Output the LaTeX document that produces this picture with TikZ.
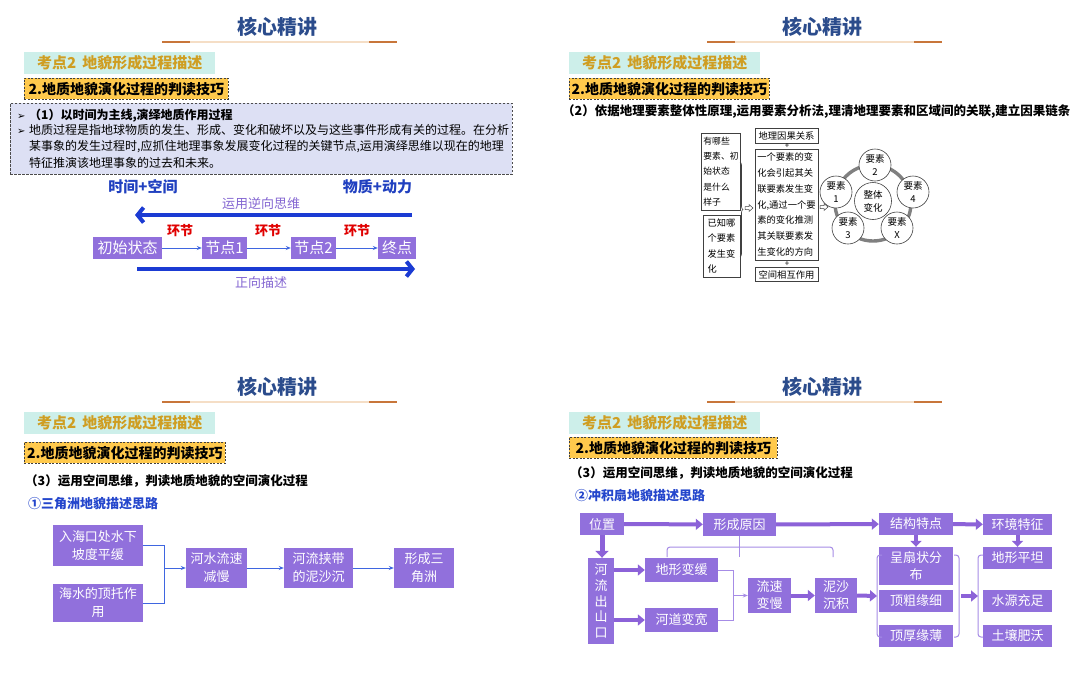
\documentclass[tikz,border=0pt]{standalone}
\usepackage{fontspec}
\setmainfont{Noto Sans CJK SC}
\newfontfamily\dvsans{DejaVu Sans}
\usetikzlibrary{arrows.meta,decorations.pathreplacing}
\definecolor{titleblue}{HTML}{2B4C8C}
\definecolor{peach}{HTML}{F5DEC6}
\definecolor{rust}{HTML}{C8763A}
\definecolor{kdbg}{HTML}{CDEFEA}
\definecolor{kdtext}{HTML}{CF9E22}
\definecolor{ybox}{HTML}{FFC94C}
\definecolor{lav}{HTML}{DDE0F4}
\definecolor{deepblue}{HTML}{1B3BD3}
\definecolor{labpurple}{HTML}{8466D2}
\definecolor{boxpurple}{HTML}{9170DC}
\definecolor{arrpurple}{HTML}{8C62D8}
\definecolor{thinpurple}{HTML}{A68CE6}
\definecolor{thinblue}{HTML}{3F66E0}
\definecolor{hred}{HTML}{E00000}
\definecolor{subblue}{HTML}{2446CC}
\definecolor{headblue}{HTML}{2040C0}
\newcommand\fs[1]{\fontsize{#1}{#1}\selectfont}
\tikzset{
  titletext/.style={font=\fs{20}\bfseries, text=titleblue, inner sep=0},
  tline/.style={line width=2.2pt, draw=peach},
  tlineo/.style={line width=2.2pt, draw=rust},
  kdbox/.style={fill=kdbg, text=kdtext, font=\fs{15}\bfseries, minimum width=191, minimum height=22, inner sep=0},
  twobox/.style={fill=ybox, draw=black!75, dash pattern=on 2pt off 1.5pt, line width=0.7pt, font=\fs{14}\bfseries, minimum height=21, inner sep=0},
  lavbox/.style={fill=lav, draw=black!70, dash pattern=on 2.5pt off 1.5pt, line width=0.8pt, inner sep=0},
  bigarrow/.style={line width=4pt, draw=deepblue, -{Straight Barb[length=6pt,width=15pt]}},
  flowbox/.style={fill=boxpurple, text=white, font=\fs{15}, minimum height=22, inner sep=0},
  thinarr/.style={line width=0.9pt, draw=thinblue, -{Stealth[length=5pt,width=4pt]}},
  p3box/.style={fill=boxpurple, text=white, font=\fontsize{13}{18}\selectfont, align=center, inner sep=0},
  p3line/.style={line width=1pt, draw=thinblue},
  p4box/.style={fill=boxpurple, text=white, font=\fontsize{13}{17}\selectfont, align=center, inner sep=0},
  fatarr/.style={line width=4pt, draw=arrpurple, -{Triangle[length=7pt,width=11pt]}},
  thinp/.style={line width=1pt, draw=thinpurple},
  imgbox/.style={draw=black!75, line width=0.6pt, fill=white, align=left, inner xsep=2pt, inner ysep=0},
  circ/.style={circle, draw=black!75, line width=0.6pt, fill=white, align=center, inner sep=0, font=\fontsize{9.5}{13}\selectfont},
  txt/.style={inner sep=0},
}
\newcommand\phead[5]{%
  \node[titletext] (#1title) at (277+#2, 26.5+#3) {核心精讲};
  \draw[tline] (162+#2,42+#3) -- (397+#2,42+#3);
  \draw[tlineo] (162+#2,42+#3) -- (190+#2,42+#3);
  \draw[tlineo] (369+#2,42+#3) -- (397+#2,42+#3);
  \node[kdbox, anchor=north west] (#1kd) at (24+#2, 52+#3) {考点2\hspace{6pt}地貌形成过程描述};
  \node[twobox, minimum width=#4, anchor=north west] (#1two) at (24+#2, #5) {2.地质地貌演化过程的判读技巧};
}
\begin{document}
\begin{tikzpicture}[x=1pt,y=-1pt]
\useasboundingbox (0,0) rectangle (1080,675);
\fill[white] (0,0) rectangle (1080,675);

\phead{a}{0}{0}{204}{78}
\phead{b}{545}{0}{200}{78}
\phead{c}{0}{360}{201}{442}
\phead{d}{545}{360}{208}{437}

% ---------------- panel 1 ----------------
\node[lavbox, anchor=north west, minimum width=502, minimum height=71] (lav) at (10,103) {};
\node[txt, anchor=base west, font=\fs{12}\bfseries] (l1) at (17,119.5) {\makebox[12pt][l]{\dvsans\fs{10}➢}（1）以时间为主线,演绎地质作用过程};
\node[txt, anchor=base west, font=\fs{12}] (l2) at (17,134) {\makebox[12pt][l]{\dvsans\fs{10}➢}地质过程是指地球物质的发生、形成、变化和破坏以及与这些事件形成有关的过程。在分析};
\node[txt, anchor=base west, font=\fs{12}] (l3) at (29,150.5) {某事象的发生过程时,应抓住地理事象发展变化过程的关键节点,运用演绎思维以现在的地理};
\node[txt, anchor=base west, font=\fs{12}] (l4) at (29,167) {特征推演该地理事象的过去和未来。};

\node[txt, font=\fs{15}\bfseries, text=headblue] (tk) at (143,187) {时间+空间};
\node[txt, font=\fs{15}\bfseries, text=headblue] (wd) at (377.5,187) {物质+动力};
\node[txt, font=\fs{13}, text=labpurple] (rev) at (261,204) {运用逆向思维};
\coordinate (revS) at (412,215);
\coordinate (revE) at (135,215);
\draw[bigarrow] (revS) -- (revE);

\node[txt, font=\fs{13}\bfseries, text=hred] (h1) at (180,231) {环节};
\node[txt, font=\fs{13}\bfseries, text=hred] (h2) at (268,231) {环节};
\node[txt, font=\fs{13}\bfseries, text=hred] (h3) at (357,231) {环节};

\node[flowbox, minimum width=69] (init) at (127.5,248) {初始状态};
\node[flowbox, minimum width=45] (n1) at (224.5,248) {节点1};
\node[flowbox, minimum width=45] (n2) at (313.5,248) {节点2};
\node[flowbox, minimum width=38] (fin) at (397,248) {终点};
\draw[thinarr] (init) -- (n1);
\draw[thinarr] (n1) -- (n2);
\draw[thinarr] (n2) -- (fin);

\coordinate (fwS) at (137,269);
\coordinate (fwE) at (415,269);
\draw[bigarrow] (fwS) -- (fwE);
\node[txt, font=\fs{13}, text=labpurple] (fwd) at (261,283) {正向描述};

% ---------------- panel 2 ----------------
\node[txt, anchor=west, font=\fs{12.5}\bfseries] (b2txt) at (562,111) {（2）依据地理要素整体性原理,运用要素分析法,理清地理要素和区域间的关联,建立因果链条};

\node[imgbox, minimum width=36, minimum height=77, font=\fontsize{8.8}{15.3}\selectfont] (q1) at (721,171.5) {有哪些\\要素、初\\始状态\\是什么\\样子};
\node[imgbox, minimum width=37, minimum height=62, font=\fontsize{9.2}{15.2}\selectfont] (q2) at (721.5,246) {已知哪\\个要素\\发生变\\化};
\draw[black!75, line width=0.6pt, decorate, decoration={brace, amplitude=3pt}] (740,162) -- (740,257);
\draw[black!75, line width=0.5pt, fill=white] (745,206.5) -- (749,206.5) -- (749,204.5) -- (753,208) -- (749,211.5) -- (749,209.5) -- (745,209.5) -- cycle;

\node[imgbox, minimum width=63, minimum height=15, font=\fs{9.3}] (rel) at (786.5,135.5) {地理因果关系};
\node[txt, font=\fs{8}] (pl1) at (787,146) {+};
\node[imgbox, minimum width=63, minimum height=111, font=\fontsize{9.3}{15.7}\selectfont] (big) at (786.5,204.5) {一个要素的变\\化会引起其关\\联要素发生变\\化,通过一个要\\素的变化推测\\其关联要素发\\生变化的方向};
\node[txt, font=\fs{8}] (pl2) at (787,264) {+};
\node[imgbox, minimum width=63, minimum height=14, font=\fs{9.3}] (sp) at (786.5,274.5) {空间相互作用};
\draw[black!75, line width=0.5pt, fill=white] (820,205.5) -- (824,205.5) -- (824,203.5) -- (828,207) -- (824,210.5) -- (824,208.5) -- (820,208.5) -- cycle;

\coordinate (ringc) at (873,203);
\draw[line width=3.4pt, black!50] (ringc) circle[radius=38];
\node[circ, minimum size=37] (whole) at (873,201) {整体\\变化};
\node[circ, minimum size=32] (e2) at (875,165) {要素\\2};
\node[circ, minimum size=32] (e1) at (836,192) {要素\\1};
\node[circ, minimum size=32] (e4) at (913,192) {要素\\4};
\node[circ, minimum size=32] (e3) at (848,228) {要素\\3};
\node[circ, minimum size=32] (ex) at (897,228) {要素\\X};

% ---------------- panel 3 ----------------
\node[txt, anchor=west, font=\fs{12.5}\bfseries] (c3txt) at (25,481) {（3）运用空间思维，判读地质地貌的空间演化过程};
\node[txt, anchor=west, font=\fs{13}\bfseries, text=subblue] (c3sub) at (28,504) {①三角洲地貌描述思路};

\node[p3box, minimum width=90, minimum height=41] (d1) at (98,545.5) {入海口处水下\\坡度平缓};
\node[p3box, minimum width=90, minimum height=38] (d2) at (98,603) {海水的顶托作\\用};
\node[p3box, minimum width=61, minimum height=40] (d3) at (216.5,568) {河水流速\\减慢};
\node[p3box, minimum width=69, minimum height=40] (d4) at (318.5,568) {河流挟带\\的泥沙沉};
\node[p3box, minimum width=60, minimum height=40] (d5) at (424,568) {形成三\\角洲};
\coordinate (jn) at (164,568);
\draw[p3line] (d1.east) -- (jn |- d1.east) -- (jn |- d2.east) -- (d2.east);
\draw[p3line, -{Stealth[length=5pt,width=4pt]}] (jn) -- (d3.west);
\draw[p3line, -{Stealth[length=5pt,width=4pt]}] (d3) -- (d4);
\draw[p3line, -{Stealth[length=5pt,width=4pt]}] (d4) -- (d5);

% ---------------- panel 4 ----------------
\node[txt, anchor=west, font=\fs{12.5}\bfseries] (d4txt) at (570,473) {（3）运用空间思维，判读地质地貌的空间演化过程};
\node[txt, anchor=west, font=\fs{13}\bfseries, text=subblue] (d4sub) at (575,495) {②冲积扇地貌描述思路};

\node[p4box, minimum width=44, minimum height=22] (pos) at (602,524) {位置};
\node[p4box, minimum width=73, minimum height=23] (cause) at (739.5,524.5) {形成原因};
\node[p4box, minimum width=74, minimum height=22] (struct) at (916,524) {结构特点};
\node[p4box, minimum width=69, minimum height=21] (env) at (1017.5,524.5) {环境特征};
\node[p4box, minimum width=26, minimum height=86, font=\fontsize{13}{15.8}\selectfont] (river) at (601,601) {河\\流\\出\\山\\口};
\node[p4box, minimum width=73, minimum height=24] (terr) at (681.5,570) {地形变缓};
\node[p4box, minimum width=73, minimum height=24] (wide) at (681.5,620) {河道变宽};
\node[p4box, minimum width=43, minimum height=35] (speed) at (769.5,595.5) {流速\\变慢};
\node[p4box, minimum width=42, minimum height=35] (sed) at (836,595.5) {泥沙\\沉积};
\node[p4box, minimum width=74, minimum height=38] (fan) at (916,566) {呈扇状分\\布};
\node[p4box, minimum width=74, minimum height=22] (coarse) at (916,601) {顶粗缘细};
\node[p4box, minimum width=74, minimum height=22] (thick) at (916,636) {顶厚缘薄};
\node[p4box, minimum width=69, minimum height=22] (flat) at (1017.5,558) {地形平坦};
\node[p4box, minimum width=69, minimum height=22] (water) at (1017.5,601) {水源充足};
\node[p4box, minimum width=69, minimum height=22] (soil) at (1017.5,636) {土壤肥沃};

\draw[fatarr] (pos) -- (cause);
\draw[fatarr] (cause) -- (struct);
\draw[fatarr] (struct) -- (env);
\draw[fatarr, line width=5pt, -{Triangle[length=7pt,width=13pt]}] (pos.south) -- (pos.south |- river.north);
\draw[fatarr, -{Triangle[length=6pt,width=11pt]}] (struct.south) -- (fan.north);
\draw[fatarr, -{Triangle[length=6pt,width=11pt]}] (env.south) -- (flat.north);
\draw[fatarr] (river.east |- terr.west) -- (terr.west);
\draw[fatarr] (river.east |- wide.west) -- (wide.west);

\coordinate (jn2) at (733,595.5);
\draw[thinp] (terr.east) -- (jn2 |- terr.east) -- (jn2 |- wide.east) -- (wide.east);
\draw[thinp, -{Stealth[length=5pt,width=4pt]}] (jn2) -- (speed.west);
\draw[fatarr] (speed) -- (sed);

% brace under 形成原因
\coordinate (brL) at (667,557);
\coordinate (brR) at (833,557);
\draw[thinp, rounded corners=3] (brL) -- (667,547) -- (833,547) -- (brR);
\draw[thinp] (cause.south) -- (cause.south |- brL) ;

% brackets
\coordinate (bkA) at (877,596);
\coordinate (bkB) at (959,596);
\coordinate (bkC) at (978,596);
\draw[thinp, rounded corners=3] (882,555) -- (877,555) -- (877,637) -- (882,637);
\draw[thinp, rounded corners=3] (954,555) -- (959,555) -- (959,637) -- (954,637);
\draw[thinp, rounded corners=3] (983,555) -- (978,555) -- (978,637) -- (983,637);
\draw[fatarr] (sed.east) -- (bkA);
\draw[fatarr] ([xshift=2pt]bkB) -- (bkC);
\end{tikzpicture}
\end{document}
